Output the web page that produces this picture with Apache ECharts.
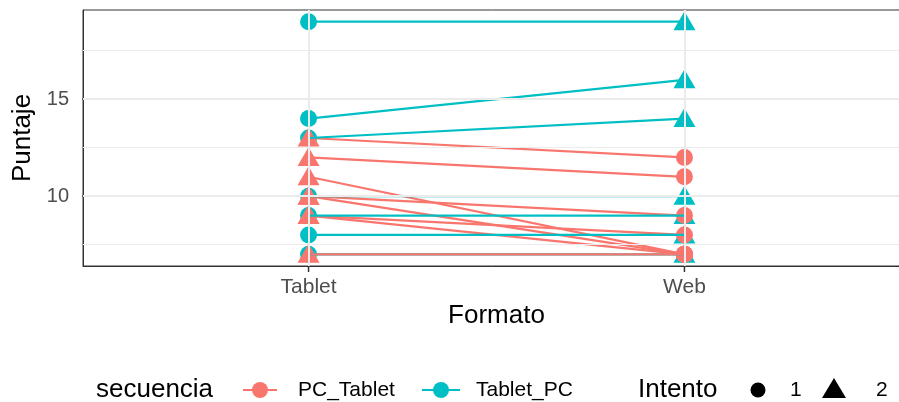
<!DOCTYPE html>
<html>
<head>
<meta charset="utf-8">
<script src="https://cdn.jsdelivr.net/npm/echarts@6/dist/echarts.min.js"></script>
<style>
  html, body { margin: 0; padding: 0; background: #ffffff; }
  #chart { width: 899px; height: 402px; }
</style>
</head>
<body>
<div id="chart"></div>
<script>
// ---- data ----
const categories = ['Tablet', 'Web'];
const sequences = ['PC_Tablet', 'Tablet_PC'];
const intentoLabels = ['1', '2'];
// one entry per subject (drawing order of lines)
const subjectSeq = ['Tablet_PC',
  'PC_Tablet', 'PC_Tablet', 'PC_Tablet', 'PC_Tablet', 'PC_Tablet', 'PC_Tablet', 'PC_Tablet', 'PC_Tablet',
  'Tablet_PC', 'Tablet_PC', 'Tablet_PC', 'Tablet_PC', 'Tablet_PC', 'Tablet_PC'];
const tabletScore = [7, 13, 12, 11, 10, 10, 9, 9, 7, 19, 14, 13, 10, 9, 8];
const webScore    = [7, 12, 11, 7, 9, 7, 8, 7, 7, 19, 16, 14, 10, 9, 8];
const yTicks = [10, 15];
const yMinor = [7.5, 12.5, 17.5];
const xTicks = [1, 2];
const X_MIN = 0.4, X_MAX = 2.6, Y_MIN = 6.4, Y_MAX = 19.6;

// ---- styles ----
const colors = { PC_Tablet: '#F8766D', Tablet_PC: '#00BFC4' };
const FONT = "'Liberation Sans', Arial, sans-serif";
const CIRCLE = 17, TRI = [22, 19];
const GRID = { left: 83, top: 10, width: 827, height: 256 };
const TICK_LEN = 6;

function intentoOf(seq, fmt) {
  const first = seq.split('_')[0] === 'PC' ? 'Web' : 'Tablet';
  return fmt === first ? 1 : 2;
}

const series = [];
series.push({
  type: 'line', data: [], z: 1, silent: true,
  markLine: {
    silent: true, symbol: 'none', animation: false, label: { show: false },
    data: [
      ...yMinor.map(v => ({ yAxis: v, lineStyle: { color: '#EBEBEB', width: 1, type: 'solid' } })),
      ...yTicks.map(v => ({ yAxis: v, lineStyle: { color: '#EBEBEB', width: 2, type: 'solid' } })),
      ...xTicks.map(v => ({ xAxis: v, lineStyle: { color: '#EBEBEB', width: 2, type: 'solid' } }))
    ]
  }
});

// tick marks as short unclipped line segments just outside the panel
const dx = TICK_LEN * (X_MAX - X_MIN) / GRID.width;
const dy = TICK_LEN * (Y_MAX - Y_MIN) / GRID.height;
yTicks.forEach(v => series.push({
  type: 'line', z: 6, silent: true, animation: false, clip: false, showSymbol: false, symbol: 'none',
  data: [[X_MIN - dx, v], [X_MIN, v]], lineStyle: { color: '#333333', width: 1.5 }
}));
xTicks.forEach(v => series.push({
  type: 'line', z: 6, silent: true, animation: false, clip: false, showSymbol: false, symbol: 'none',
  data: [[v, Y_MIN - dy], [v, Y_MIN]], lineStyle: { color: '#333333', width: 1.5 }
}));

const pointData = [];
['Tablet_PC', 'PC_Tablet'].forEach(seq => {
  categories.forEach((fmt, fi) => {
    subjectSeq.forEach((s, i) => {
      if (s !== seq) return;
      const score = fmt === 'Tablet' ? tabletScore[i] : webScore[i];
      const it = intentoOf(s, fmt);
      pointData.push({
        value: [fi + 1, score],
        symbol: it === 1 ? 'circle' : 'triangle',
        symbolSize: it === 1 ? CIRCLE : TRI,
        symbolOffset: it === 1 ? [0, 0] : [0, -1],
        itemStyle: { color: colors[s], opacity: 1 }
      });
    });
  });
});
series.push({ type: 'scatter', data: pointData, z: 2, silent: true, animation: false, itemStyle: { opacity: 1 } });

subjectSeq.forEach((s, i) => {
  series.push({
    type: 'line', name: s, z: 3, silent: true, animation: false,
    showSymbol: false, symbol: 'none',
    data: [[1, tabletScore[i]], [2, webScore[i]]],
    lineStyle: { color: colors[s], width: 2.2 }
  });
});

const chart = echarts.init(document.getElementById('chart'), null, { renderer: 'canvas' });
const legendY = 390;
const legendGraphics = [
  { type: 'text', left: 96, top: legendY - 13, style: { text: 'secuencia', font: '26px ' + FONT, fill: '#000' } },
  { type: 'line', shape: { x1: 243, y1: legendY, x2: 277, y2: legendY }, style: { stroke: colors[sequences[0]], lineWidth: 2.2 } },
  { type: 'circle', shape: { cx: 260, cy: legendY, r: 8 }, style: { fill: colors[sequences[0]] } },
  { type: 'text', left: 298, top: legendY - 10, style: { text: sequences[0], font: '21px ' + FONT, fill: '#000' } },
  { type: 'line', shape: { x1: 422, y1: legendY, x2: 460, y2: legendY }, style: { stroke: colors[sequences[1]], lineWidth: 2.2 } },
  { type: 'circle', shape: { cx: 441, cy: legendY, r: 8 }, style: { fill: colors[sequences[1]] } },
  { type: 'text', left: 476, top: legendY - 10, style: { text: sequences[1], font: '21px ' + FONT, fill: '#000' } },
  { type: 'text', left: 638, top: legendY - 13, style: { text: 'Intento', font: '26px ' + FONT, fill: '#000' } },
  { type: 'circle', shape: { cx: 758, cy: legendY, r: 7.5 }, style: { fill: '#000' } },
  { type: 'text', left: 790, top: legendY - 10, style: { text: intentoLabels[0], font: '21px ' + FONT, fill: '#000' } },
  { type: 'polygon', shape: { points: [[822, legendY + 8], [846, legendY + 8], [834, legendY - 12]] }, style: { fill: '#000' } },
  { type: 'text', left: 876, top: legendY - 10, style: { text: intentoLabels[1], font: '21px ' + FONT, fill: '#000' } }
];

chart.setOption({
  animation: false,
  backgroundColor: '#ffffff',
  textStyle: { fontFamily: FONT },
  grid: Object.assign({
    outerBoundsMode: 'none', containLabel: false,
    show: true, borderColor: '#333333', borderWidth: 1, backgroundColor: '#ffffff'
  }, GRID),
  xAxis: {
    type: 'value', min: X_MIN, max: X_MAX,
    name: 'Formato', nameLocation: 'middle', nameGap: 33,
    nameTextStyle: { fontSize: 26, color: '#000000', fontFamily: FONT },
    axisLine: { show: true, lineStyle: { color: '#333333', width: 1 } },
    splitLine: { show: false },
    axisTick: { show: false },
    axisLabel: {
      customValues: xTicks, fontSize: 21, color: '#4D4D4D', margin: 11, fontFamily: FONT,
      formatter: v => categories[Math.round(v) - 1] || ''
    }
  },
  yAxis: {
    type: 'value', min: Y_MIN, max: Y_MAX,
    name: 'Puntaje', nameLocation: 'middle', nameGap: 46, nameRotate: 90,
    nameTextStyle: { fontSize: 26, color: '#000000', fontFamily: FONT },
    axisLine: { show: true, lineStyle: { color: '#333333', width: 1 } },
    splitLine: { show: false },
    axisTick: { show: false },
    axisLabel: { customValues: yTicks, fontSize: 20, color: '#4D4D4D', margin: 14, fontFamily: FONT }
  },
  series: series,
  graphic: legendGraphics
});
</script>
</body>
</html>
